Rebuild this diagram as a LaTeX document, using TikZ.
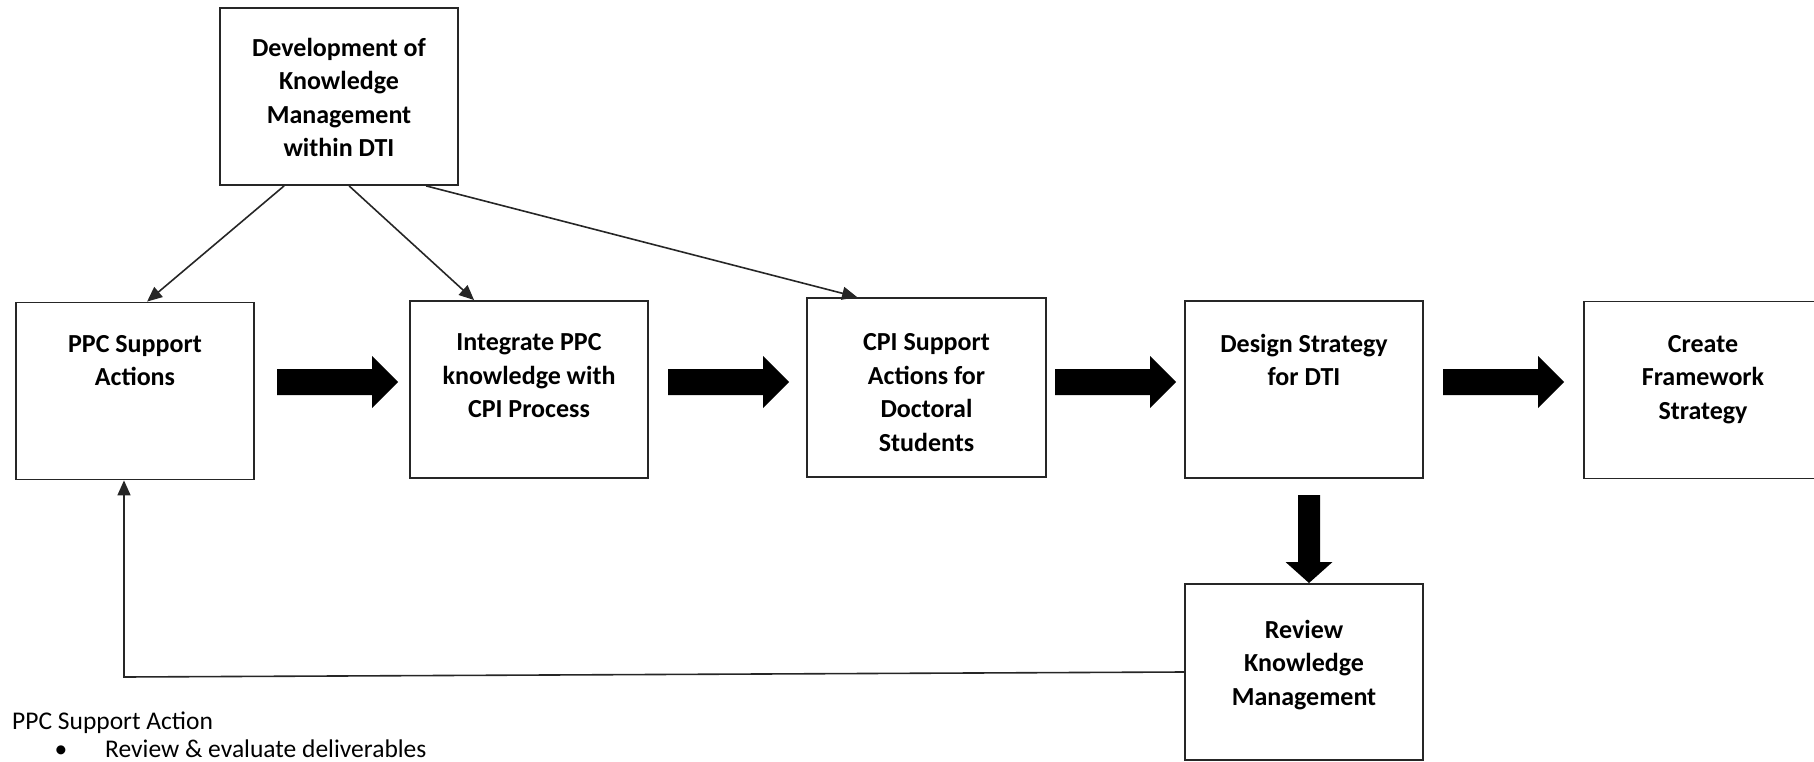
\documentclass[tikz,border=0pt]{standalone}
\usepackage{fontspec}
\setmainfont{Carlito}
\usetikzlibrary{arrows.meta,calc}

\tikzset{
  box/.style={draw=black!85, line width=1.8pt, minimum width=238pt, minimum height=177pt, inner sep=0pt},
  % the 20pt strut fixes the first baseline 20pt under the caption's top
  boxtext/.style={font=\bfseries\fontsize{26}{33.5}\selectfont, align=center, anchor=north, inner sep=0pt,
    execute at begin node=\rule{0pt}{20pt}},
  notetext/.style={font=\fontsize{25.5}{31}\selectfont, inner sep=0pt},
  link/.style={draw=black!85, line width=1.6pt, -{Triangle[length=15pt,width=13pt]}},
  rblock/.pic={\fill[black] (0,-13) -- (95,-13) -- (95,-26) -- (121,0) -- (95,26) -- (95,13) -- (0,13) -- cycle;},
  dblock/.pic={\fill[black] (-11,0) -- (11,0) -- (11,67) -- (23.5,67) -- (0,88) -- (-23.5,67) -- (-11,67) -- cycle;},
}

\begin{document}
\begin{tikzpicture}[x=1pt,y=-1pt]
\useasboundingbox (0,0) rectangle (1814,762);

% process boxes
\node[box] (top)    at (339,96.5)  {};
\node[box] (ppc)    at (135,391)   {};
\node[box] (integ)  at (529,389.5) {};
\node[box, minimum width=239pt, minimum height=179pt] (cpi) at (926.5,387.5) {};
\node[box] (design) at (1304,389.5) {};
\node[box] (create) at (1703,390)  {};
\node[box, minimum height=176pt] (review) at (1304,672) {};

% box captions
\node[boxtext] (topT)    at ($(top.north)+(0,30.5)$)    {Development of\\Knowledge\\Management\\within DTI};
\node[boxtext] (ppcT)    at ($(ppc.north)+(0,33.5)$)    {PPC Support\\Actions};
\node[boxtext] (integT)  at ($(integ.north)+(0,33.5)$)  {Integrate PPC\\knowledge with\\CPI Process};
\node[boxtext] (cpiT)    at ($(cpi.north)+(0,36.5)$)    {CPI Support\\Actions for\\Doctoral\\Students};
\node[boxtext] (designT) at ($(design.north)+(0,33.5)$) {Design Strategy\\for DTI};
\node[boxtext] (createT) at ($(create.north)+(0,34.5)$) {Create\\Framework\\Strategy};
\node[boxtext] (reviewT) at ($(review.north)+(0,36.5)$) {Review\\Knowledge\\Management};

% thin arrows out of the knowledge management box
\draw[link] ([xshift=65pt]top.south west)  -- ([xshift=132pt]ppc.north west);
\draw[link] ([xshift=130pt]top.south west) -- ([xshift=65pt]integ.north west);
\draw[link] ([xshift=207pt]top.south west) -- ([xshift=51pt]cpi.north west);

% block arrows of the main flow
\pic at (277,382)  {rblock};
\pic at (668,382)  {rblock};
\pic at (1055,382) {rblock};
\pic at (1443,382) {rblock};
\pic at (1309,495) {dblock};

% feedback loop
\coordinate (fb) at (124,677);
\draw[link] (review.west) -- (fb) -- (fb |- ppc.south);

% note under the diagram
\node[notetext, anchor=base west] (note) at (12,729) {PPC Support Action};
\node[notetext, anchor=base] (bullet) at (61,757) {\textbullet};
\node[notetext, anchor=base west] (item) at (105,757) {Review \& evaluate deliverables};
\end{tikzpicture}
\end{document}
